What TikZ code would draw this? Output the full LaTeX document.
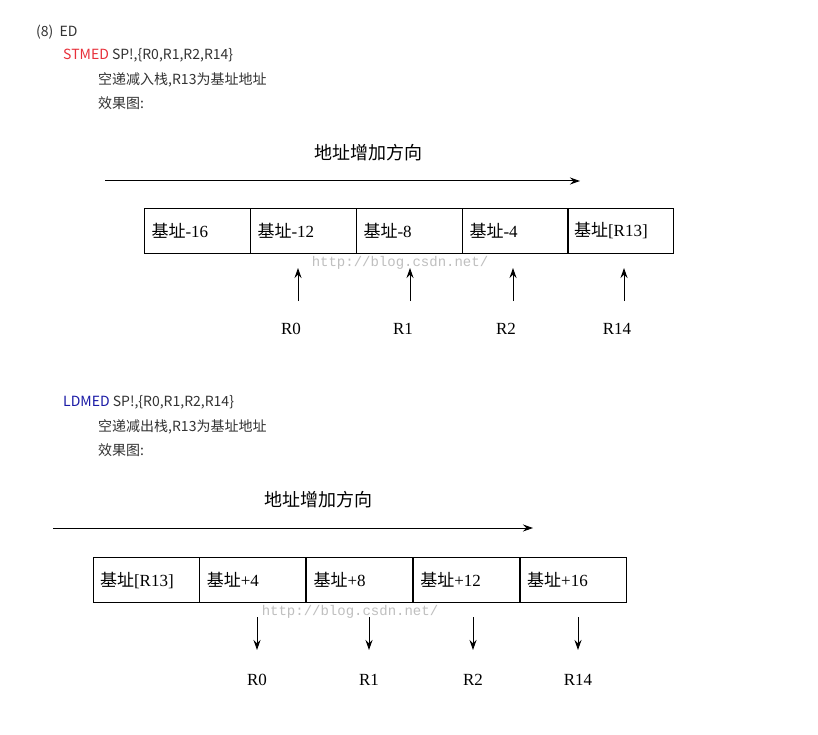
\documentclass[tikz,border=0pt]{standalone}
\usepackage{fontspec}
\setmainfont{Liberation Serif}
\newfontfamily\cjk{Noto Sans CJK SC}
\newfontfamily\ui{Noto Sans CJK SC}
\newfontfamily\mono{Liberation Mono}
\usetikzlibrary{arrows.meta}
\definecolor{txt}{HTML}{333333}
\definecolor{redk}{HTML}{E8303A}
\definecolor{bluek}{HTML}{1A1AA6}
\tikzset{
 cell/.style={draw,line width=0.9pt,minimum width=106pt,minimum height=45pt,inner ysep=0pt,inner xsep=7pt,text width=92pt,align=left,font=\fontsize{17}{17}\selectfont},
 uitext/.style={anchor=west,inner sep=0pt,text=txt,font=\ui\fontsize{14}{14}\selectfont},
 lab/.style={font=\fontsize{17}{17}\selectfont},
 arr/.style={-{Stealth[length=10pt,width=7pt]},line width=1pt},
 wm/.style={text=gray!50,font=\mono\fontsize{14}{14}\selectfont},
 ttl/.style={font=\cjk\fontsize{18}{18}\selectfont}
}
\newcommand{\jz}{{\cjk 基址}}
\begin{document}
\begin{tikzpicture}[x=1pt,y=-1pt]
\useasboundingbox[fill=white] (0,0) rectangle (818,735);
% top text
\node[uitext] (t1) at (36,32) {(8)\ \ ED};
\node[uitext] (t2) at (63,55) {\textcolor{redk}{STMED} SP!,\{R0,R1,R2,R14\}};
\node[uitext] (t3) at (98,80) {空递减入栈,R13为基址地址};
\node[uitext] (t4) at (98,103) {效果图:};
\node[ttl] (h1) at (368,153) {地址增加方向};
\coordinate (a1s) at (105,181); \coordinate (a1e) at (580,181);
\draw[arr] (a1s) -- (a1e);
\foreach \i/\t in {0/-16,1/-12,2/-8,3/-4}{
 \node[cell] (u\i) at (197.5+106*\i,230.5) {\jz\t};}
\node[cell] (u4) at (620,230.5) {\jz[R13]};
\node[wm] (w1) at (400,263) {http://blog.csdn.net/};
\foreach \x/\r [count=\k] in {298/R0,410/R1,513/R2,624/R14}{
 \coordinate (ub\k) at (\x,301); \coordinate (ut\k) at (\x,268);
 \draw[arr] (ub\k) -- (ut\k);
 \node[lab] (ul\k) at (\x-7,329) {\r};}
% bottom text
\node[uitext] (b2) at (63,402) {\textcolor{bluek}{LDMED} SP!,\{R0,R1,R2,R14\}};
\node[uitext] (b3) at (98,427) {空递减出栈,R13为基址地址};
\node[uitext] (b4) at (98,450) {效果图:};
\node[ttl] (h2) at (318,500) {地址增加方向};
\coordinate (a2s) at (53,528); \coordinate (a2e) at (533,528);
\draw[arr] (a2s) -- (a2e);
\node[cell] (v0) at (146,580) {\jz[R13]};
\foreach \i/\t in {1/+4,2/+8,3/+12,4/+16}{
 \node[cell] (v\i) at (146+106.8*\i,580) {\jz\t};}
\node[wm] (w2) at (350,612) {http://blog.csdn.net/};
\foreach \x/\r [count=\k] in {257/R0,369/R1,473/R2,578/R14}{
 \coordinate (vb\k) at (\x,617); \coordinate (vt\k) at (\x,650);
 \draw[arr] (vb\k) -- (vt\k);
 \node[lab] (vl\k) at (\x,680) {\r};}
\end{tikzpicture}
\end{document}
